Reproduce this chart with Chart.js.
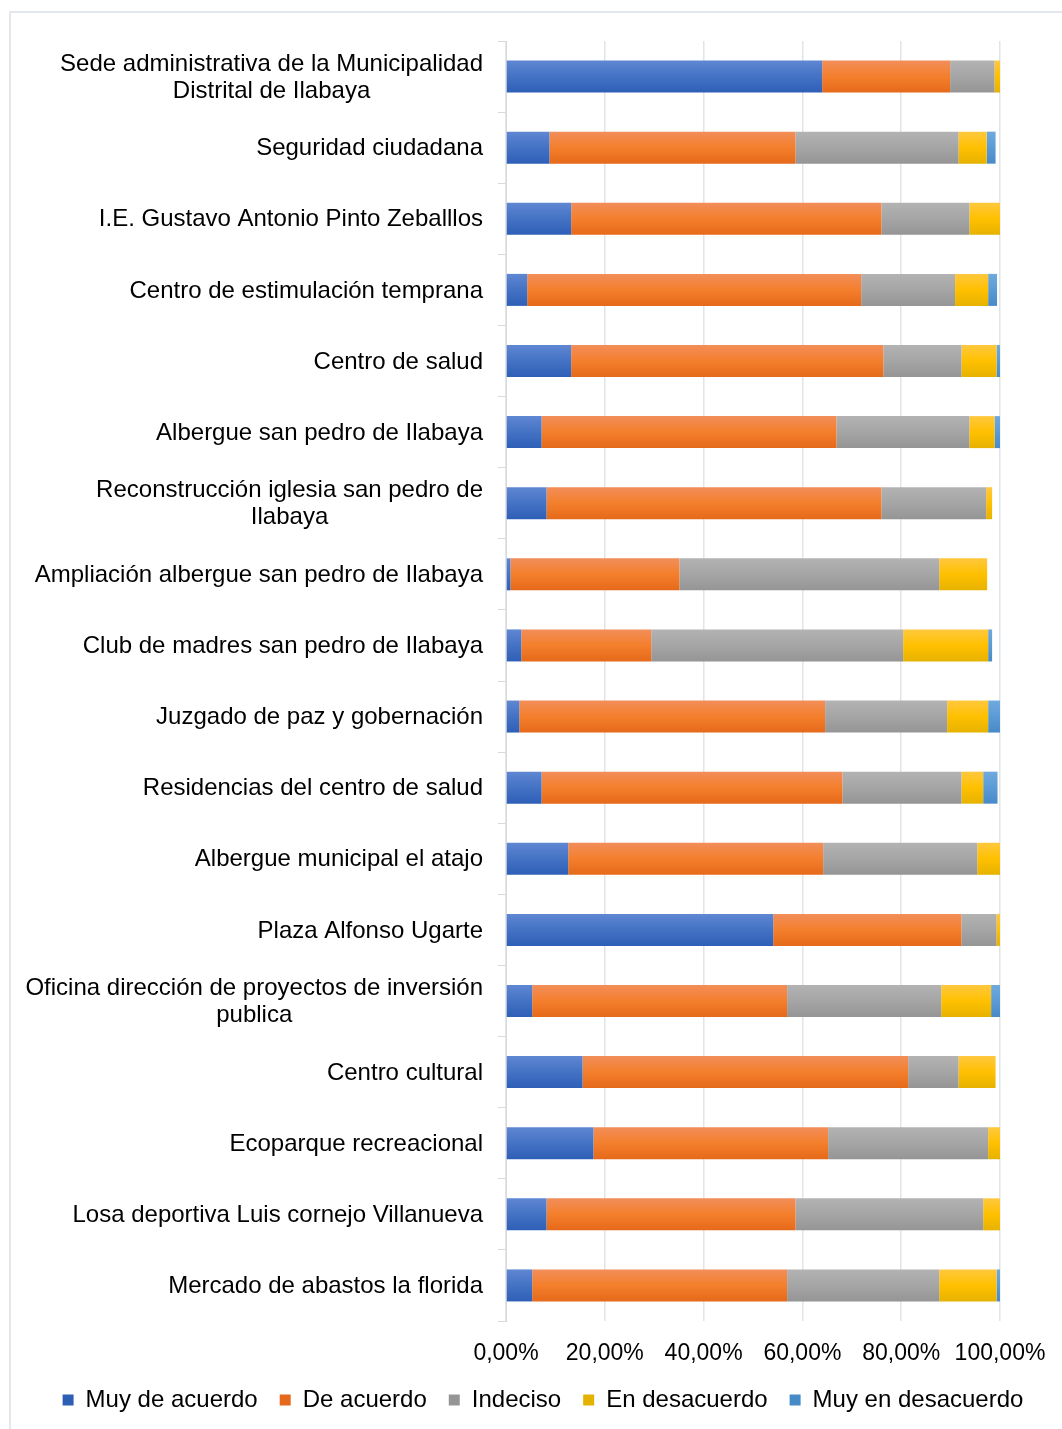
<!DOCTYPE html>
<html>
<head>
<meta charset="utf-8">
<script src="https://cdn.jsdelivr.net/npm/chart.js@4.4.0/dist/chart.umd.min.js"></script>
<style>
  html, body { margin: 0; padding: 0; background: #fff; overflow: hidden; width: 1062px; height: 1429px; }
  #frame { position: absolute; left: 9px; top: 11px; width: 1120px; height: 1500px; border: 2px solid #e4e7eb; box-sizing: border-box; }
  #wrap { position: absolute; left: 10px; top: 12px; width: 1066px; height: 1410px; }
</style>
</head>
<body>
<div id="frame"></div>
<div id="wrap"><canvas id="c"></canvas></div>
<script>
const categories = [
  ["Sede administrativa de la Municipalidad", "Distrital de Ilabaya"],
  "Seguridad ciudadana",
  "I.E. Gustavo Antonio Pinto Zeballlos",
  "Centro de estimulación temprana",
  "Centro de salud",
  "Albergue san pedro de Ilabaya",
  ["Reconstrucción iglesia san pedro de", "Ilabaya"],
  "Ampliación albergue san pedro de Ilabaya",
  "Club de madres san pedro de Ilabaya",
  "Juzgado de paz y gobernación",
  "Residencias del centro de salud",
  "Albergue municipal el atajo",
  "Plaza Alfonso Ugarte",
  ["Oficina dirección de proyectos de inversión", "publica"],
  "Centro cultural",
  "Ecoparque recreacional",
  "Losa deportiva Luis cornejo Villanueva",
  "Mercado de abastos la florida"
];
const seriesNames = ["Muy de acuerdo", "De acuerdo", "Indeciso", "En desacuerdo", "Muy en desacuerdo"];
const muyDeAcuerdo    = [64.0,  8.8, 13.2,  4.3, 13.2,  7.2,  8.2,  0.9,  3.1,  2.7,  7.2, 12.6, 54.1,  5.3, 15.5, 17.7,  8.2,  5.3];
const deAcuerdo       = [25.9, 49.8, 62.8, 67.6, 63.2, 59.7, 67.8, 34.2, 26.3, 61.9, 60.9, 51.6, 38.1, 51.6, 65.9, 47.5, 50.4, 51.6];
const indeciso        = [ 9.0, 33.0, 17.8, 19.0, 15.8, 26.9, 21.2, 52.6, 51.0, 24.7, 24.1, 31.2,  7.1, 31.2, 10.2, 32.4, 38.0, 30.8];
const enDesacuerdo    = [ 1.1,  5.7,  6.2,  6.7,  7.1,  5.1,  1.2,  9.7, 17.2,  8.3,  4.4,  4.6,  0.7, 10.1,  7.5,  2.4,  3.4, 11.6];
const muyEnDesacuerdo = [ 0.0,  1.8,  0.0,  1.8,  0.7,  1.1,  0.0,  0.0,  0.8,  2.4,  2.9,  0.0,  0.0,  1.8,  0.0,  0.0,  0.0,  0.7];
const xTicks = [0, 20, 40, 60, 80, 100];

const palettes = [
  { flat: "#4472c4", stops: ["#5f87d3", "#4472c4", "#2e5fb7"] },
  { flat: "#ed7d31", stops: ["#f28e5a", "#f47f2c", "#e5691a"] },
  { flat: "#a5a5a5", stops: ["#b3b3b3", "#a5a5a5", "#959595"] },
  { flat: "#ffc000", stops: ["#ffc83e", "#ffc000", "#e6b200"] },
  { flat: "#5b9bd5", stops: ["#6faade", "#5b9bd5", "#478ac8"] }
];
const FONT = "'Liberation Sans', Arial, sans-serif";

function gradientFill(idx) {
  return function (ctx) {
    const p = palettes[idx];
    if (ctx.type !== 'data') return p.flat;
    const chart = ctx.chart;
    if (!chart.chartArea || !chart.scales.y) return p.flat;
    const yc = chart.scales.y.getPixelForValue(ctx.dataIndex);
    if (!isFinite(yc)) return p.flat;
    const h = 16;
    const g = chart.ctx.createLinearGradient(0, yc - h, 0, yc + h);
    g.addColorStop(0, p.stops[0]);
    g.addColorStop(0.5, p.stops[1]);
    g.addColorStop(1, p.stops[2]);
    return g;
  };
}

const seriesData = [muyDeAcuerdo, deAcuerdo, indeciso, enDesacuerdo, muyEnDesacuerdo];
const datasets = seriesNames.map((name, i) => ({
  label: name,
  data: seriesData[i],
  backgroundColor: gradientFill(i),
  borderWidth: 0,
  barPercentage: 0.45,
  categoryPercentage: 1.0
}));

const categoryLabelPlugin = {
  id: 'categoryLabels',
  afterDraw(chart) {
    const y = chart.scales.y;
    const ctx = chart.ctx;
    ctx.save();
    ctx.font = "24px " + FONT;
    ctx.fillStyle = "#000";
    ctx.textAlign = "center";
    ctx.textBaseline = "middle";
    const right = y.right - 23;
    const lh = 27;
    categories.forEach((lab, i) => {
      const lines = Array.isArray(lab) ? lab : [lab];
      const w = Math.max(...lines.map(l => ctx.measureText(l).width));
      const cx = right - w / 2;
      const yc = y.getPixelForTick(i);
      const start = yc - (lines.length - 1) * lh / 2;
      lines.forEach((l, k) => ctx.fillText(l, cx, start + k * lh + 1));
    });
    ctx.restore();
  }
};

new Chart(document.getElementById('c'), {
  type: 'bar',
  data: { labels: categories, datasets },
  options: {
    indexAxis: 'y',
    responsive: true,
    maintainAspectRatio: false,
    animation: false,
    devicePixelRatio: 1,
    layout: { padding: { left: 0, right: 0, top: 29, bottom: 0 } },
    scales: {
      x: {
        stacked: true,
        min: 0,
        max: 100,
        afterBuildTicks(scale) { scale.ticks = xTicks.map(v => ({ value: v })); },
        afterFit(scale) { scale.height = 45; },
        ticks: {
          callback: v => v.toFixed(2).replace('.', ',') + '%',
          font: { family: FONT, size: 23, lineHeight: 1.2 },
          color: '#000',
          padding: 19,
          maxRotation: 0
        },
        grid: { color: '#e1e4e8', lineWidth: 1.5, drawTicks: false },
        border: { display: false }
      },
      y: {
        stacked: true,
        ticks: { display: false, autoSkip: false },
        grid: { offset: true, drawOnChartArea: false, drawTicks: true, tickLength: 8, color: '#d9d9d9', lineWidth: 1 },
        border: { display: true, color: '#d9d9d9', width: 1 },
        afterFit(scale) { scale.width = 496; }
      },
      rightSpace: {
        type: 'linear',
        axis: 'y',
        position: 'right',
        display: true,
        ticks: { display: false },
        grid: { display: false, drawTicks: false },
        border: { display: false },
        afterFit(scale) { scale.width = 76; }
      }
    },
    plugins: {
      legend: {
        position: 'bottom',
        labels: {
          boxWidth: 11,
          boxHeight: 11,
          padding: 22,
          color: '#000',
          font: { family: FONT, size: 24 }
        }
      },
      tooltip: { enabled: false }
    }
  },
  plugins: [categoryLabelPlugin]
});
</script>
</body>
</html>
